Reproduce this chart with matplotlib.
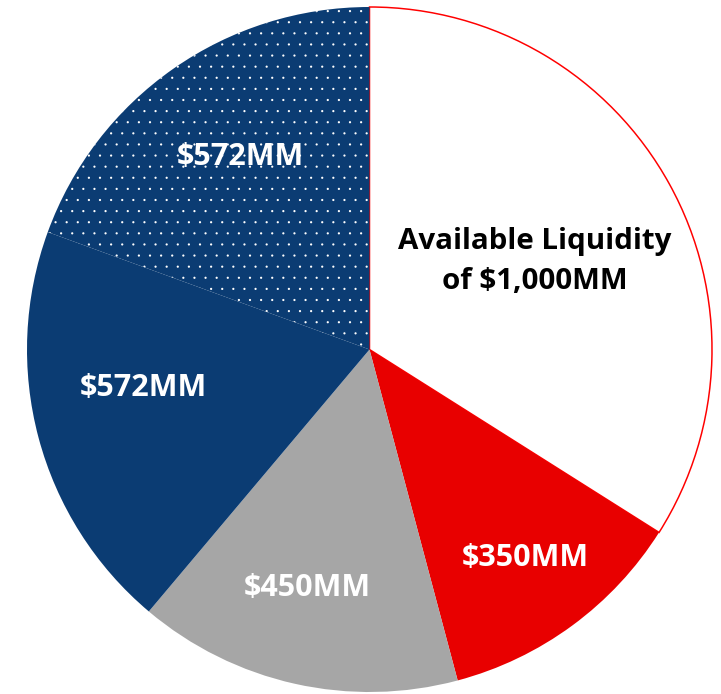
import matplotlib
matplotlib.use("Agg")
import matplotlib.pyplot as plt

categories = ["Available Liquidity", "Segment B", "Segment C", "Segment D", "Segment E"]
values = [1000, 350, 450, 572, 572]
labels = ["Available Liquidity\nof $1,000MM", "$350MM", "$450MM", "$572MM", "$572MM"]

colors = ["#FFFFFF", "#E80000", "#A6A6A6", "#0B3C73", "#0B3C73"]
label_colors = ["black", "white", "white", "white", "white"]
label_px = [(535, 261), (525, 558), (307, 588), (143, 388), (240, 157)]
label_sizes_px = [29.5, 30.5, 30.5, 30.5, 30.5]

DPI = 200
W, H = 721, 694
fig = plt.figure(figsize=(W / DPI, H / DPI), dpi=DPI)
ax = fig.add_axes([0, 0, 1, 1])

plt.rcParams["hatch.linewidth"] = 0.0

cx, cy, r = 369.5, H - 349.5, 342.5
wedges, _ = ax.pie(values, colors=colors, startangle=90, counterclock=False,
                   center=(cx, cy), radius=r, frame=True,
                   wedgeprops=dict(linewidth=0))
ax.set_xlim(0, W)
ax.set_ylim(0, H)
ax.set_aspect("equal")
ax.axis("off")

# white slice: red outline
wedges[0].set_edgecolor("#FF0000")
wedges[0].set_linewidth(1.5 * 72 / DPI)
# dotted navy slice
wedges[4].set_hatch("...")
wedges[4].set_edgecolor("white")
wedges[4].set_linewidth(0)

for lab, col, (px, py), spx in zip(labels, label_colors, label_px, label_sizes_px):
    ax.text(px, H - py, lab, color=col, ha="center", va="center",
            fontsize=spx * 72 / DPI, fontweight="bold",
            family=["Open Sans", "DejaVu Sans"], linespacing=1.5)

fig.savefig("out.png", dpi=DPI)
